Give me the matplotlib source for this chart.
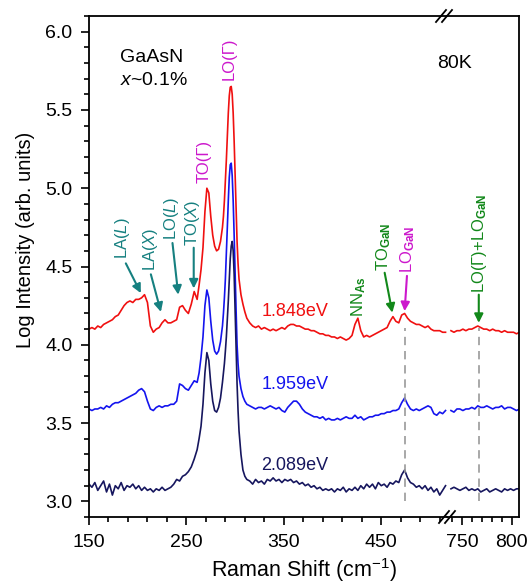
import matplotlib
matplotlib.use("Agg")
import matplotlib.pyplot as plt
import numpy as np
from matplotlib.lines import Line2D

plt.rcParams['font.family'] = ['Liberation Sans', 'DejaVu Sans']
plt.rcParams['mathtext.fontset'] = 'custom'
plt.rcParams['mathtext.rm'] = 'Liberation Sans'
plt.rcParams['mathtext.it'] = 'Liberation Sans:italic'
plt.rcParams['mathtext.bf'] = 'Liberation Sans:bold'

# Raman shift grid (cm^-1), left part of the broken axis
shift_left = [150, 153, 156, 159, 162, 165, 168, 171, 174, 177, 180, 183, 186, 189, 192, 195,
              198, 201, 204, 207, 210, 213, 216, 219, 222, 225, 228, 231, 234, 237, 240, 243,
              246, 249, 252, 255, 258, 261,
              263, 265, 267, 269, 271, 273, 275, 277, 279, 281, 283, 285, 287,
              288, 289, 290, 291, 292, 293, 294, 295, 296, 297, 298, 299, 300, 301, 302, 303, 304,
              306, 308, 310, 312,
              315, 318, 321, 324, 327, 330, 333, 336, 339, 342, 345, 348, 351, 354, 357, 360,
              363, 366, 369, 372, 375, 378, 381, 384, 387, 390, 393, 396, 399, 402, 405, 408,
              411, 414, 417, 420, 423, 426, 429, 432, 435, 438, 441, 444, 447, 450, 453, 456,
              459, 462, 465, 468, 471, 474, 477, 480, 483, 486, 489, 492, 495, 498, 501, 504,
              507, 510, 513, 516]

# right part of the broken axis
shift_right = [739, 742, 745, 748, 751, 754, 757, 760, 763, 766, 769, 772, 775, 778, 781, 784,
               787, 790, 793, 796, 799, 802, 805, 808]

red_left = [4.10, 4.11, 4.10, 4.12, 4.11, 4.13, 4.14, 4.15, 4.16, 4.18, 4.19, 4.22, 4.25, 4.27, 4.28, 4.27,
            4.29, 4.29, 4.30, 4.32, 4.27, 4.12, 4.08, 4.10, 4.11, 4.14, 4.16, 4.14, 4.14, 4.15, 4.16, 4.24,
            4.25, 4.22, 4.20, 4.26, 4.34, 4.29,
            4.38, 4.48, 4.62, 4.85, 5.00, 4.97, 4.82, 4.70, 4.63, 4.60, 4.61, 4.66, 4.75,
            4.82, 4.92, 5.05, 5.18, 5.33, 5.48, 5.59, 5.645, 5.65, 5.60, 5.48, 5.30, 5.08, 4.86, 4.66, 4.52, 4.42,
            4.32, 4.26, 4.21, 4.17,
            4.14, 4.12, 4.11, 4.12, 4.10, 4.11, 4.10, 4.09, 4.10, 4.09, 4.10, 4.11, 4.10, 4.12, 4.13, 4.13,
            4.12, 4.12, 4.11, 4.10, 4.10, 4.09, 4.09, 4.08, 4.07, 4.07, 4.06, 4.06, 4.05, 4.05, 4.04, 4.05,
            4.04, 4.03, 4.04, 4.06, 4.13, 4.17, 4.09, 4.05, 4.06, 4.05, 4.06, 4.07, 4.08, 4.09, 4.10, 4.11,
            4.15, 4.18, 4.15, 4.14, 4.19, 4.20, 4.17, 4.15, 4.14, 4.13, 4.13, 4.12, 4.11, 4.12, 4.10, 4.09,
            4.09, 4.09, 4.08, 4.08]
red_right = [4.09, 4.08, 4.09, 4.09, 4.10, 4.09, 4.10, 4.10, 4.11, 4.12, 4.11, 4.10, 4.10, 4.09, 4.10, 4.09,
             4.09, 4.08, 4.09, 4.08, 4.08, 4.08, 4.07, 4.08]

blue_left = [3.59, 3.58, 3.59, 3.59, 3.60, 3.59, 3.61, 3.60, 3.62, 3.63, 3.63, 3.64, 3.65, 3.66, 3.67, 3.68,
             3.69, 3.71, 3.72, 3.70, 3.64, 3.59, 3.58, 3.60, 3.61, 3.60, 3.61, 3.61, 3.62, 3.62, 3.64, 3.75,
             3.74, 3.72, 3.71, 3.74, 3.77, 3.76,
             3.82, 3.92, 4.05, 4.25, 4.35, 4.30, 4.15, 4.03, 3.96, 3.94, 3.96, 4.02, 4.12,
             4.20, 4.30, 4.42, 4.58, 4.75, 4.92, 5.07, 5.15, 5.16, 5.08, 4.92, 4.70, 4.45, 4.22, 4.00, 3.88, 3.80,
             3.72, 3.67, 3.64, 3.62,
             3.61, 3.60, 3.59, 3.60, 3.60, 3.59, 3.60, 3.61, 3.60, 3.59, 3.60, 3.58, 3.57, 3.60, 3.62, 3.64,
             3.64, 3.62, 3.59, 3.57, 3.56, 3.55, 3.54, 3.54, 3.53, 3.54, 3.52, 3.53, 3.52, 3.52, 3.53, 3.52,
             3.53, 3.54, 3.53, 3.53, 3.55, 3.53, 3.54, 3.52, 3.53, 3.54, 3.54, 3.55, 3.55, 3.56, 3.56, 3.57,
             3.57, 3.58, 3.58, 3.59, 3.63, 3.66, 3.62, 3.59, 3.58, 3.59, 3.58, 3.59, 3.60, 3.61, 3.60, 3.56,
             3.55, 3.57, 3.56, 3.58]
blue_right = [3.58, 3.57, 3.59, 3.59, 3.58, 3.59, 3.59, 3.60, 3.59, 3.61, 3.60, 3.60, 3.61, 3.60, 3.59, 3.60,
              3.60, 3.61, 3.59, 3.60, 3.60, 3.59, 3.58, 3.59]

navy_left = [3.11, 3.09, 3.12, 3.07, 3.10, 3.13, 3.06, 3.11, 3.04, 3.10, 3.08, 3.12, 3.07, 3.10, 3.09, 3.11,
             3.08, 3.10, 3.07, 3.09, 3.07, 3.08, 3.06, 3.08, 3.07, 3.09, 3.07, 3.08, 3.09, 3.11, 3.14, 3.13,
             3.16, 3.17, 3.19, 3.22, 3.27, 3.33,
             3.40, 3.48, 3.62, 3.82, 3.95, 3.90, 3.75, 3.64, 3.58, 3.57, 3.60, 3.66, 3.76,
             3.82, 3.88, 3.96, 4.05, 4.16, 4.28, 4.42, 4.55, 4.63, 4.66, 4.60, 4.45, 4.22, 3.98, 3.75, 3.58, 3.45,
             3.30, 3.20, 3.16, 3.14,
             3.13, 3.11, 3.14, 3.12, 3.13, 3.11, 3.14, 3.13, 3.15, 3.13, 3.14, 3.12, 3.14, 3.13, 3.14, 3.12,
             3.13, 3.11, 3.12, 3.10, 3.11, 3.09, 3.10, 3.08, 3.09, 3.07, 3.08, 3.07, 3.08, 3.06, 3.08, 3.07,
             3.09, 3.06, 3.08, 3.07, 3.09, 3.07, 3.10, 3.08, 3.11, 3.09, 3.11, 3.08, 3.12, 3.10, 3.11, 3.09,
             3.12, 3.11, 3.13, 3.12, 3.17, 3.20, 3.15, 3.12, 3.11, 3.09, 3.10, 3.08, 3.10, 3.07, 3.09, 3.06,
             3.08, 3.04, 3.07, 3.10]
navy_right = [3.08, 3.09, 3.08, 3.07, 3.08, 3.09, 3.07, 3.08, 3.07, 3.08, 3.06, 3.07, 3.08, 3.06, 3.07, 3.08,
              3.07, 3.06, 3.08, 3.07, 3.08, 3.07, 3.08, 3.08]

RED = '#f01010'
BLUE = '#1414ee'
NAVY = '#16165e'
TEAL = '#168080'
GREEN = '#12881a'
MAGENTA = '#cc18cc'
GREY = '#999999'

W, H = 528, 586
fig = plt.figure(figsize=(W / 100, H / 100), dpi=100)

ax_l = fig.add_axes([89 / W, 1 - 517 / H, (447 - 89) / W, (517 - 16) / H])
ax_r = fig.add_axes([447 / W, 1 - 517 / H, (519 - 447) / W, (517 - 16) / H])
ax_r.patch.set_visible(False)

for ax in (ax_l, ax_r):
    ax.set_ylim(2.9, 6.1)
    for s in ax.spines.values():
        s.set_linewidth(1.3)
    ax.tick_params(which='both', direction='out', width=1.2, labelsize=14, pad=6)
    ax.tick_params(which='major', length=6)
    ax.tick_params(which='minor', length=3.8)

ax_l.set_xlim(150, 517.5)
ax_r.set_xlim(735, 807.5)
ax_l.spines['right'].set_visible(False)
ax_r.spines['left'].set_visible(False)

ax_l.set_xticks([150, 250, 350, 450])
ax_l.set_xticks(np.arange(170, 517, 20), minor=True)
ax_r.set_xticks([750, 800])
ax_r.set_xticks([740, 760, 770, 780, 790], minor=True)
ax_l.set_yticks(np.arange(3.0, 6.01, 0.5))
ax_l.set_yticklabels(['%.1f' % v for v in np.arange(3.0, 6.01, 0.5)])
ax_l.set_yticks(np.arange(2.9, 6.11, 0.1), minor=True)
ax_r.set_yticks([])
ax_r.set_yticks([], minor=True)

lw = 1.2
ax_l.plot(shift_left, red_left, color=RED, lw=lw)
ax_l.plot(shift_left, blue_left, color=BLUE, lw=lw)
ax_l.plot(shift_left, navy_left, color=NAVY, lw=lw)
ax_r.plot(shift_right, red_right, color=RED, lw=lw)
ax_r.plot(shift_right, blue_right, color=BLUE, lw=lw)
ax_r.plot(shift_right, navy_right, color=NAVY, lw=lw)

# dashed guide lines
ax_l.plot([474, 474], [3.0, 4.11], color=GREY, lw=1.2, dashes=(5, 3.5))
ax_r.plot([767, 767], [3.0, 4.11], color=GREY, lw=1.2, dashes=(5, 3.5))

# text
ax_l.text(182, 5.835, 'GaAsN', fontsize=14, va='center')
ax_l.text(182, 5.69, '$x$~0.1%', fontsize=14, va='center')
fig.text(437 / W, 1 - 64 / H, '80K', fontsize=14, va='center')
ax_l.text(327, 4.21, '1.848eV', fontsize=13, color=RED, va='center')
ax_l.text(327, 3.745, '1.959eV', fontsize=13, color=BLUE, va='center')
ax_l.text(327, 3.23, '2.089eV', fontsize=13, color=NAVY, va='center')

def vlabel(ax, x, y, s, color):
    ax.text(x, y, s, rotation=90, ha='center', va='bottom', fontsize=12, color=color)

def arrow(ax, xy_from, xy_to, color):
    ax.annotate('', xy=xy_to, xytext=xy_from,
                arrowprops=dict(arrowstyle='-|>', color=color, lw=1.5,
                                mutation_scale=13, shrinkA=0, shrinkB=0))

vlabel(ax_l, 184.5, 4.55, 'LA($L$)', TEAL)
arrow(ax_l, (187.8, 4.52), (203.2, 4.33), TEAL)
vlabel(ax_l, 212.8, 4.47, 'LA($X$)', TEAL)
arrow(ax_l, (213.5, 4.45), (223.8, 4.21), TEAL)
vlabel(ax_l, 234.9, 4.67, 'LO($L$)', TEAL)
arrow(ax_l, (235.7, 4.65), (241.6, 4.32), TEAL)
vlabel(ax_l, 255.8, 4.63, 'TO($X$)', TEAL)
arrow(ax_l, (257.5, 4.62), (257.5, 4.36), TEAL)

vlabel(ax_l, 268.3, 5.035, 'TO(Γ)', MAGENTA)
vlabel(ax_l, 294, 5.69, 'LO(Γ)', MAGENTA)

vlabel(ax_l, 427, 4.18, r'NN$_{\mathbf{As}}$', GREEN)
vlabel(ax_l, 452.5, 4.47, r'TO$_{\mathbf{GaN}}$', GREEN)
arrow(ax_l, (453.5, 4.46), (461.4, 4.205), GREEN)
vlabel(ax_l, 477, 4.46, r'LO$_{\mathbf{GaN}}$', MAGENTA)
arrow(ax_l, (476.4, 4.44), (474, 4.215), MAGENTA)
vlabel(ax_r, 767.6, 4.33, r'LO(Γ)+LO$_{\mathbf{GaN}}$', GREEN)
arrow(ax_r, (767, 4.32), (767, 4.14), GREEN)

fig.text(304 / W, 1 - 570 / H, 'Raman Shift (cm$^{-1}$)', fontsize=15.5, ha='center', va='center')
fig.text(26 / W, 1 - 240 / H, 'Log Intensity (arb. units)', fontsize=14.5, rotation=90,
         ha='center', va='center')

# break marks
for xc, yc in ((444, 16), (447, 517)):
    for dx in (-3, 3):
        x0, x1 = xc + dx - 5, xc + dx + 5
        y0, y1 = yc + 6, yc - 6
        fig.add_artist(Line2D([x0 / W, x1 / W], [1 - y0 / H, 1 - y1 / H],
                              color='black', lw=1.3, transform=fig.transFigure))

fig.savefig('out.png', dpi=100)
